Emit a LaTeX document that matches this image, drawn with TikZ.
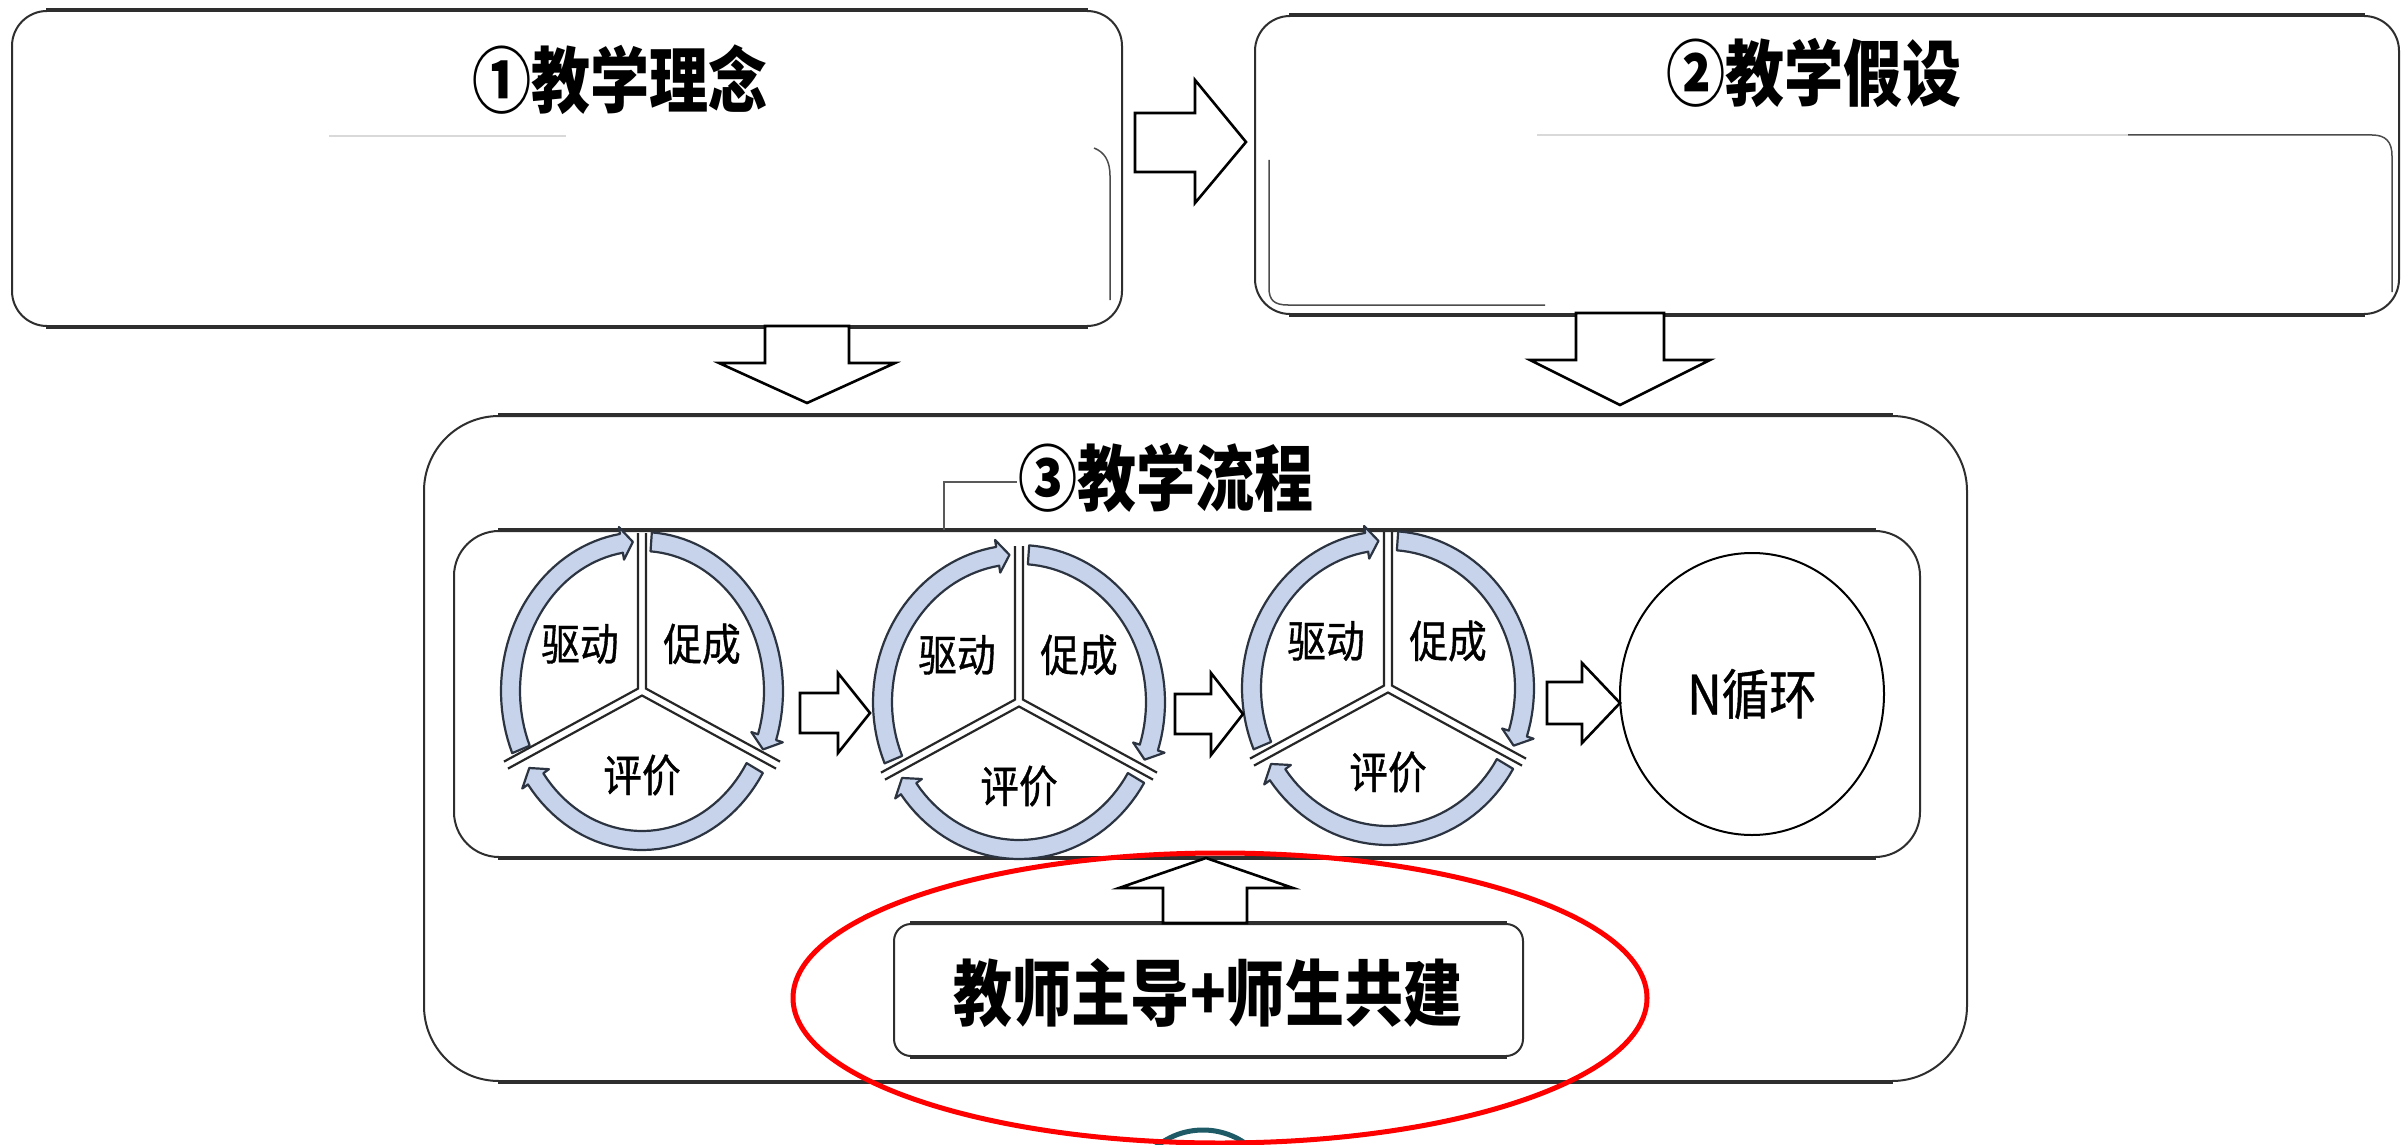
\documentclass[tikz,border=0pt]{standalone}
\usepackage{fontspec}
\setmainfont{Noto Sans CJK SC}
\newfontfamily\cjkT[FakeStretch=0.82]{Noto Sans CJK SC}
\newfontfamily\cjkS[FakeStretch=0.88,FakeBold=0.8]{Noto Sans CJK SC}
\usetikzlibrary{shapes.geometric}
\definecolor{ringfill}{HTML}{C6D3EA}
\definecolor{ringline}{HTML}{2B3440}
\definecolor{boxline}{HTML}{2E2E2E}
\definecolor{tealone}{HTML}{1E5B67}
\tikzset{
 rbox/.style={draw=boxline, line width=2pt, fill=white, inner sep=0pt, anchor=north west},
 hedge/.style={draw=boxline, line width=4.5pt},
 blockarrow/.style={draw=black, line width=2.6pt, fill=white, line join=miter},
 divider/.style={draw=black!85, line width=2.2pt, line join=miter},
 ring/.style={fill=ringfill, draw=ringline, line width=2.2pt, line join=round},
 remnant/.style={draw=gray!55, line width=1.5pt},
 title/.style={font=\cjkT\bfseries\fontsize{72}{80}\selectfont, inner sep=0pt},
 lab/.style={font=\cjkS\fontsize{44}{50}\selectfont, inner sep=0pt},
}
\newcommand\ringarc[2]{%
  \pgfmathsetmacro\cycHB{#2+5}%
  \filldraw[ring] plot[domain=#1:\cycHB, samples=40] ({\cycRX*cos(\x)},{-\cycRY*sin(\x)})
     -- ({(\cycRX+7)*cos(\cycHB)},{-(\cycRY+7)*sin(\cycHB)})
     -- ({\cycMX*cos(#2)},{-\cycMY*sin(#2)})
     -- ({(\cycrX-7)*cos(\cycHB)},{-(\cycrY-7)*sin(\cycHB)})
     -- plot[domain=\cycHB:#1, samples=40] ({\cycrX*cos(\x)},{-\cycrY*sin(\x)})
     -- cycle;
}
\newcommand\cyc[5]{% name, cx, cy, rx, ry
\begin{scope}[shift={(#2,#3)}]
  \pgfmathsetmacro\cycRX{#4}\pgfmathsetmacro\cycRY{#5}%
  \pgfmathsetmacro\cycrX{#4-19}\pgfmathsetmacro\cycrY{#5-19}%
  \pgfmathsetmacro\cycMX{#4-9.5}\pgfmathsetmacro\cycMY{#5-9.5}%
  \draw[divider] (-4,{-\cycRY+1}) -- (-4,-2.4) -- ++(-134,73);
  \draw[divider] (4,{-\cycRY+1}) -- (4,-2.4) -- ++(134,73);
  \draw[divider] (-134,77.6) -- (0,4.5) -- (134,77.6);
  \ringarc{203}{94}
  \ringarc{86}{-23}
  \ringarc{-31}{-149}
  \node[lab] (#1d) at (-62,-47) {驱动};
  \node[lab] (#1c) at (60,-47) {促成};
  \node[lab] (#1p) at (0,84) {评价};
\end{scope}}
\begin{document}
\begin{tikzpicture}[x=1pt,y=-1pt]
\useasboundingbox (0,0) rectangle (2402,1145);
\clip (0,0) rectangle (2402,1145);
\fill[white] (0,0) rectangle (2402,1145);

% ---- box 3 and its content
\node[rbox, rounded corners=75pt, minimum width=1543pt, minimum height=665pt] (b3) at (423,415) {};
\draw[hedge] ([xshift=75pt]b3.north west) -- ([xshift=-75pt]b3.north east);
\draw[hedge] ([xshift=75pt]b3.south west) -- ([xshift=-75pt]b3.south east);
\node[rbox, rounded corners=45pt, minimum width=1466pt, minimum height=326pt] (inner) at (453,530) {};
\draw[hedge] ([xshift=45pt]inner.north west) -- ([xshift=-45pt]inner.north east);
\draw[hedge] ([xshift=45pt]inner.south west) -- ([xshift=-45pt]inner.south east);
\node[title] (t3) at (1166,478) {③教学流程};
\draw[draw=gray!70!black, line width=2pt] (1017,482) -- (944,482) -- (944,530);

\cyc{ca}{642}{691}{141}{159}
\cyc{cb}{1019}{702}{146}{157}
\cyc{cc}{1388}{688}{146}{157}
\node[ellipse, draw=black, line width=2pt, minimum width=264pt, minimum height=282pt, inner sep=0pt,
      font=\cjkS\fontsize{54}{60}\selectfont] (nc) at (1752,694) {N循环};

\draw[blockarrow] (800,693) -- (838,693) -- (838,673) -- (870,713) -- (838,753) -- (838,733) -- (800,733) -- cycle;
\draw[blockarrow] (1175,694) -- (1211,694) -- (1211,673) -- (1243,714) -- (1211,755) -- (1211,734) -- (1175,734) -- cycle;
\draw[blockarrow] (1547,682) -- (1582,682) -- (1582,663) -- (1620,703) -- (1582,743) -- (1582,724) -- (1547,724) -- cycle;

\node[rbox, rounded corners=17pt, minimum width=629pt, minimum height=132pt] (b4) at (893,923) {};
\draw[hedge] ([xshift=17pt]b4.north west) -- ([xshift=-17pt]b4.north east);
\draw[hedge] ([xshift=17pt]b4.south west) -- ([xshift=-17pt]b4.south east);
\node[title] (t4) at (1208,993) {教师主导+师生共建};
\draw[blockarrow] (1163,923) -- (1163,888) -- (1119,888) -- (1206,858) -- (1293,888) -- (1247,888) -- (1247,923) -- cycle;

% ---- box 1
\node[rbox, rounded corners=35pt, minimum width=1110pt, minimum height=315pt] (b1) at (11,10) {};
\draw[hedge] ([xshift=35pt]b1.north west) -- ([xshift=-35pt]b1.north east);
\draw[hedge] ([xshift=35pt]b1.south west) -- ([xshift=-35pt]b1.south east);
\node[title] (t1) at (620,80) {①教学理念};
\draw[remnant, draw=gray!30] (329,136) -- (566,136);
\draw[draw=gray!60!black, line width=1.5pt] (1094,148) .. controls (1104,152) and (1110,160) .. (1110,176) -- (1110,300);

% ---- box 2
\node[rbox, rounded corners=35pt, minimum width=1144pt, minimum height=298pt] (b2) at (1254,15) {};
\draw[hedge] ([xshift=35pt]b2.north west) -- ([xshift=-35pt]b2.north east);
\draw[hedge] ([xshift=35pt]b2.south west) -- ([xshift=-35pt]b2.south east);
\node[title] (t2) at (1814,73) {②教学假设};
\draw[draw=gray!60!black, line width=1.5pt] (1269,160) -- (1269,288) .. controls (1269,300) and (1274,305) .. (1288,305) -- (1545,305);
\draw[draw=gray!60!black, line width=1.5pt] (2128,135) -- (2372,135) .. controls (2386,135) and (2392,142) .. (2392,156) -- (2392,292);
\draw[remnant, draw=gray!30] (1537,135) -- (2128,135);

% ---- block arrows between boxes
\draw[blockarrow] (1135,113) -- (1195,113) -- (1195,80) -- (1246,142) -- (1195,203) -- (1195,172) -- (1135,172) -- cycle;
\draw[blockarrow] (765,326) -- (849,326) -- (849,363) -- (895,363) -- (807,403) -- (719,363) -- (765,363) -- cycle;
\draw[blockarrow] (1576,313) -- (1664,313) -- (1664,360) -- (1710,360) -- (1620,405) -- (1530,360) -- (1576,360) -- cycle;

% ---- highlight marks
\draw[draw=tealone, line width=5pt] (1203,1204) circle[radius=74pt];
\node[ellipse, draw=red, line width=5pt, minimum width=854pt, minimum height=290pt, inner sep=0pt] (hl) at (1220,998) {};
\end{tikzpicture}
\end{document}
